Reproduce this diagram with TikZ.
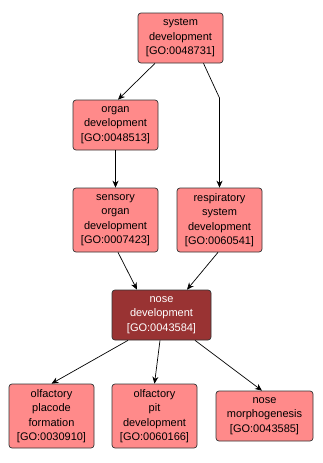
\documentclass[tikz,border=0pt]{standalone}
\usepackage{fontspec}
\setmainfont{Liberation Sans}
\usetikzlibrary{arrows.meta}
\definecolor{gofill}{RGB}{255,138,138}
\definecolor{godark}{RGB}{153,51,51}
\begin{document}
\begin{tikzpicture}[x=1pt,y=-1pt,
  gobox/.style={draw=black!80,line width=0.7pt,rounded corners=3pt,fill=gofill,
    inner sep=0pt,align=center,font=\fontsize{11}{14.5}\selectfont},
  goedge/.style={-{Stealth[length=7pt,width=6pt]},line width=0.7pt,black}]
\useasboundingbox (0,0) rectangle (322,463);
\node[gobox,minimum width=85,minimum height=50] (sys) at (180.5,38) {system\\development\\{}[GO:0048731]};
\node[gobox,minimum width=85,minimum height=50] (org) at (115.5,125) {organ\\development\\{}[GO:0048513]};
\node[gobox,minimum width=85,minimum height=64] (sen) at (115.5,220) {sensory\\organ\\development\\{}[GO:0007423]};
\node[gobox,minimum width=85,minimum height=64] (res) at (219.5,220) {respiratory\\system\\development\\{}[GO:0060541]};
\node[gobox,fill=godark,text=white,minimum width=99,minimum height=50] (nose) at (161.5,315) {nose\\development\\{}[GO:0043584]};
\node[gobox,minimum width=85,minimum height=64] (pla) at (51.5,416) {olfactory\\placode\\formation\\{}[GO:0030910]};
\node[gobox,minimum width=85,minimum height=64] (pit) at (154.5,416) {olfactory\\pit\\development\\{}[GO:0060166]};
\node[gobox,minimum width=97,minimum height=50] (mor) at (264.5,416) {nose\\morphogenesis\\{}[GO:0043585]};
\coordinate (bend) at (219.5,98);
\draw[goedge] ([xshift=-25.5pt]sys.south) -- ([xshift=2.5pt]org.north);
\draw[goedge] ([xshift=23pt]sys.south) -- (bend) -- (res.north);
\draw[goedge] (org.south) -- (sen.north);
\draw[goedge] ([xshift=2.5pt]sen.south) -- ([xshift=-24.5pt]nose.north);
\draw[goedge] ([xshift=-1.5pt]res.south) -- ([xshift=25.5pt]nose.north);
\draw[goedge] ([xshift=-33.5pt]nose.south) -- (pla.north);
\draw[goedge] ([xshift=-1.5pt]nose.south) -- (pit.north);
\draw[goedge] ([xshift=33.5pt]nose.south) -- ([xshift=-2.5pt]mor.north);
\end{tikzpicture}
\end{document}
